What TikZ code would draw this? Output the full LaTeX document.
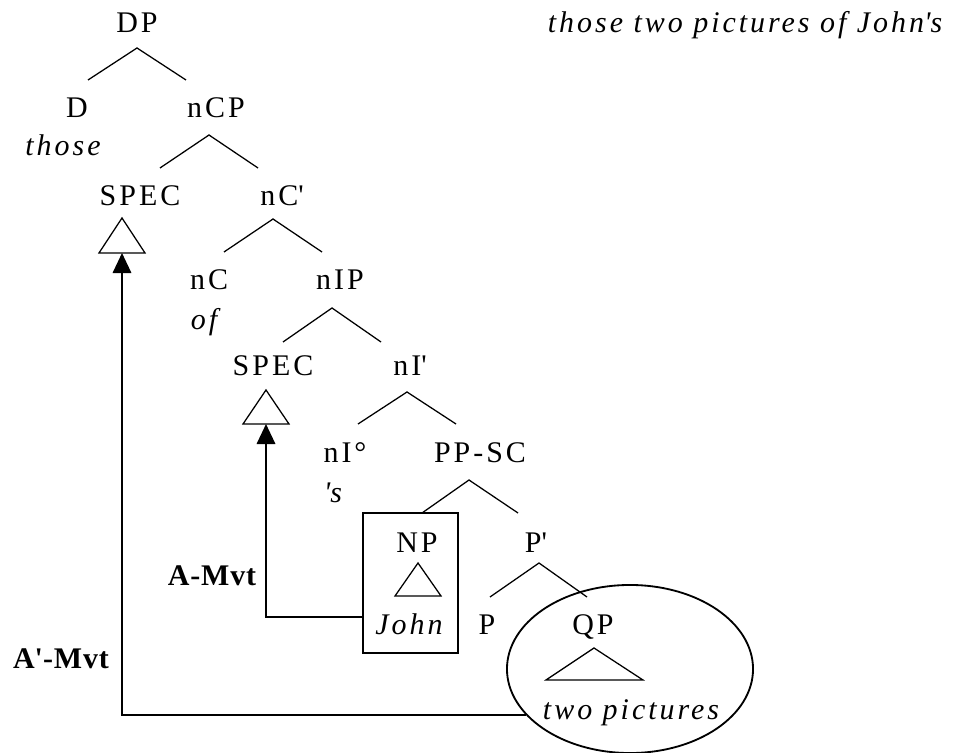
\documentclass[tikz,border=0pt]{standalone}
\usepackage{fontspec}
\setmainfont{Liberation Serif}[LetterSpace=10]
\usetikzlibrary{arrows.meta,calc,shapes.geometric}

\newcommand{\treefont}{\fontsize{21.3}{25}\selectfont}
\newcommand{\q}{\textquotesingle}

\begin{document}
\begin{tikzpicture}[
    x=0.025cm, y=-0.025cm,
    font=\treefont,
    cat/.style={anchor=base, inner sep=0pt},
    word/.style={cat, font=\treefont\itshape},
    mvt/.style={cat, font=\treefont\bfseries\addfontfeatures{LetterSpace=3}},
    branch/.style={line width=0.9pt},
    arrow/.style={-{Triangle[length=0.5cm, width=0.46cm]}, line width=1.5pt},
    npframe/.style={draw, line width=1.1pt, minimum width=2.375cm, minimum height=3.5cm, inner sep=0pt},
    qpring/.style={draw, ellipse, line width=1.3pt, minimum width=6.15cm, minimum height=4.2cm, inner sep=0pt}
]
\useasboundingbox (0,0) rectangle (965,753);
\node[word] (gloss) at (745,33) {those two pictures of John\q s};
% tree
\node[cat] (dp) at (137,33) {DP};
\node[cat] (d) at (77,118) {D};
\node[word] (those) at (63,156) {those};
\node[cat] (ncp) at (216,118) {nCP};
\node[cat] (spec1) at (140,206) {SPEC};
\node[cat] (ncbar) at (282,206) {nC\q};
\node[cat] (nc) at (209,290) {nC};
\node[word] (of) at (204,330) {of};
\node[cat] (nip) at (340,290) {nIP};
\node[cat] (spec2) at (273,376) {SPEC};
\node[cat] (nibar) at (410,376) {nI\q};
\node[cat] (nihead) at (345,462) {nI°};
\node[word] (poss) at (333,502) {\q s};
\node[cat] (ppsc) at (480,462) {PP-SC};
\node[cat] (np) at (417,552) {NP};
\node[word] (john) at (409,634) {John};
\node[cat] (pbar) at (536,552) {P\q};
\node[cat] (p) at (487,634) {P};
\node[cat] (qp) at (593,634) {QP};
\node[word] (pics) at (631,719) {two pictures};
\node[npframe] (npbox) at (410.5,583) {};
\node[qpring] (qpcircle) at (630,669) {};
% branches
\draw[branch] ($(dp.base)+(-49,47)$) -- ($(dp.base)+(0,15)$) -- ($(dp.base)+(49,47)$);
\draw[branch] ($(ncp.base)+(-56,50)$) -- ($(ncp.base)+(-7,17)$) -- ($(ncp.base)+(42,50)$);
\draw[branch] ($(ncbar.base)+(-58,46)$) -- ($(ncbar.base)+(-9,13)$) -- ($(ncbar.base)+(40,46)$);
\draw[branch] ($(nip.base)+(-57,52)$) -- ($(nip.base)+(-8,18)$) -- ($(nip.base)+(41,52)$);
\draw[branch] ($(nibar.base)+(-52,48)$) -- ($(nibar.base)+(-3,16)$) -- ($(nibar.base)+(46,48)$);
\draw[branch] ($(ppsc.base)+(-58,51)$) -- ($(ppsc.base)+(-11,18)$) -- ($(ppsc.base)+(38,51)$);
\draw[branch] ($(pbar.base)+(-46,45)$) -- ($(pbar.base)+(3,11)$) -- ($(pbar.base)+(51,45)$);
% triangles
\draw[branch] ($(spec1.base)+(-18,12)$) -- ($(spec1.base)+(-41,47)$) -- ($(spec1.base)+(5,47)$) -- cycle;
\draw[branch] ($(spec2.base)+(-7,14)$) -- ($(spec2.base)+(-30,48)$) -- ($(spec2.base)+(16,48)$) -- cycle;
\draw[branch] ($(np.base)+(1,11)$) -- ($(np.base)+(-22,44)$) -- ($(np.base)+(24,44)$) -- cycle;
\draw[branch] ($(qp.base)+(1,14)$) -- ($(qp.base)+(-47,46)$) -- ($(qp.base)+(50,46)$) -- cycle;
\coordinate (spec1foot) at ($(spec1.base)+(-18,47)$);
\coordinate (spec2foot) at ($(spec2.base)+(-7,48)$);
% movement
\node[mvt] (amvt) at (212,585) {A-Mvt};
\node[mvt] (abarmvt) at (61,668) {A\q-Mvt};
\draw[arrow] ($(npbox.west)+(0,34)$) -| (spec2foot);
\draw[arrow] (qpcircle.204) -| (spec1foot);
\end{tikzpicture}
\end{document}
